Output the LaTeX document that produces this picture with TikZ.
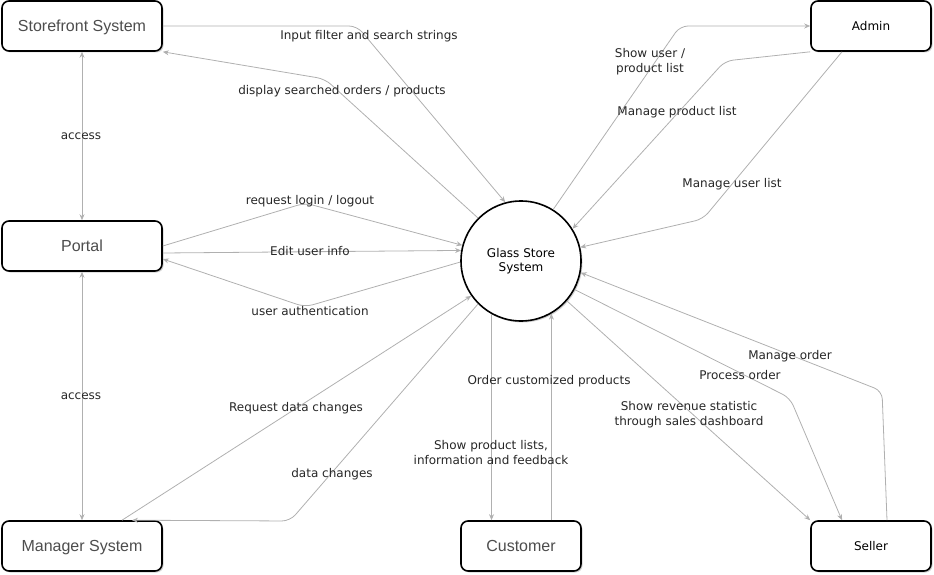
\documentclass[tikz,border=0pt]{standalone}
\usepackage{fontspec}
\setmainfont{DejaVu Sans}
\newfontfamily\boxfont{Liberation Sans}
\usetikzlibrary{arrows.meta, shadows}
\definecolor{flowgray}{HTML}{B0B0B0}
\definecolor{boxtext}{HTML}{4D4D4D}
\tikzset{
  >={Stealth[length=6pt,width=5pt]},
  entity/.style={draw, line width=1.6pt, rounded corners=7pt, fill=white, minimum height=50pt,
    drop shadow={shadow xshift=1.5pt, shadow yshift=-1.5pt, opacity=0.35}},
  bigent/.style={entity, minimum width=160pt, text depth=0pt, font=\boxfont\fontsize{16}{19}\selectfont, text=boxtext},
  smallent/.style={entity, minimum width=120pt, font=\fontsize{12}{14}\selectfont},
  flow/.style={draw=flowgray, line width=0.8pt, rounded corners=8pt, ->},
  lbl/.style={font=\fontsize{12}{14.5}\selectfont, align=center, text=black!85, yshift=-1.5pt}
}

\begin{document}
\begin{tikzpicture}[x=1pt, y=-1pt]
    \useasboundingbox (0,0) rectangle (934,575);

    % entities
    \node[bigent] (sf) at (82,26) {Storefront System};
    \node[bigent] (portal) at (82,246) {Portal};
    \node[bigent] (mgr) at (82,546) {Manager System};
    \node[bigent, minimum width=120pt] (cust) at (521,546) {Customer};
    \node[smallent] (admin) at (871,26) {Admin};
    \node[smallent] (seller) at (871,546) {Seller};
    \node[circle, draw, line width=1.6pt, fill=white, minimum size=120pt, align=center,
          font=\fontsize{12}{14.5}\selectfont,
          drop shadow={shadow xshift=1.5pt, shadow yshift=-1.5pt, opacity=0.35}] (sys) at (521,261) {Glass Store\\System};

    % bend points
    \coordinate (bIn) at (357,26);
    \coordinate (bDisp) at (325,79);
    \coordinate (bLogin) at (305,203);
    \coordinate (bAuth) at (305,307);
    \coordinate (bData) at (290,521);
    \coordinate (bShow) at (680,26);
    \coordinate (bProd) at (725,61);
    \coordinate (bUser) at (703,219);
    \coordinate (bOrder) at (882,391);
    \coordinate (bProc) at (790,398);

    % storefront
    \draw[flow] (sf.east) -- (bIn) -- (sys.105);
    \draw[flow] (sys.135) -- (bDisp) -- (sf.south east);
    \draw[flow,<->] (sf.south) -- (portal.north);
    \draw[flow,<->] (portal.south) -- (mgr.north);

    % portal
    \draw[flow] (portal.east) -- (bLogin) -- (sys.165);
    \draw[flow] ([yshift=-7pt]portal.east) -- (sys.170);
    \draw[flow] (sys.181) -- (bAuth) -- ([yshift=-13pt]portal.east);

    % manager
    \draw[flow] ([xshift=40pt]mgr.north) -- (sys.215);
    \draw[flow] (sys.225) -- (bData) -- ([xshift=50pt]mgr.north);

    % customer
    \draw[flow] (sys.241) -- (sys.241 |- cust.north);
    \draw[flow] (sys.300 |- cust.north) -- (sys.300);

    % admin
    \draw[flow] (sys.58) -- (bShow) -- (admin.west);
    \draw[flow] (admin.south west) -- (bProd) -- (sys.32);
    \draw[flow] ([xshift=-29pt]admin.south) -- (bUser) -- (sys.13);

    % seller
    \draw[flow] ([xshift=16pt]seller.north) -- (bOrder) -- (sys.-11);
    \draw[flow] (sys.-28) -- (bProc) -- ([xshift=-29pt]seller.north);
    \draw[flow] (sys.-41) -- (seller.north west);

    % labels
    \node[lbl] (lInput) at (369,35) {Input filter and search strings};
    \node[lbl] (lDisp) at (342,90) {display searched orders / products};
    \node[lbl] (lAcc1) at (81,135) {access};
    \node[lbl] (lAcc2) at (81,395) {access};
    \node[lbl] (lLogin) at (310,200) {request login / logout};
    \node[lbl] (lEdit) at (310,250) {Edit user info};
    \node[lbl] (lAuth) at (310,310) {user authentication};
    \node[lbl] (lReq) at (296,407) {Request data changes};
    \node[lbl] (lData) at (332,473) {data changes};
    \node[lbl] (lOrderC) at (549,380) {Order customized products};
    \node[lbl] (lShowP) at (491,451) {Show product lists,\\information and feedback};
    \node[lbl] (lRev) at (689,413) {Show revenue statistic\\through sales dashboard};
    \node[lbl] (lProc) at (740,374) {Process order};
    \node[lbl] (lMan) at (790,355) {Manage order};
    \node[lbl] (lShowU) at (650,60) {Show user /\\product list};
    \node[lbl] (lProd) at (677,111) {Manage product list};
    \node[lbl] (lUser) at (732,183) {Manage user list};
\end{tikzpicture}
\end{document}
